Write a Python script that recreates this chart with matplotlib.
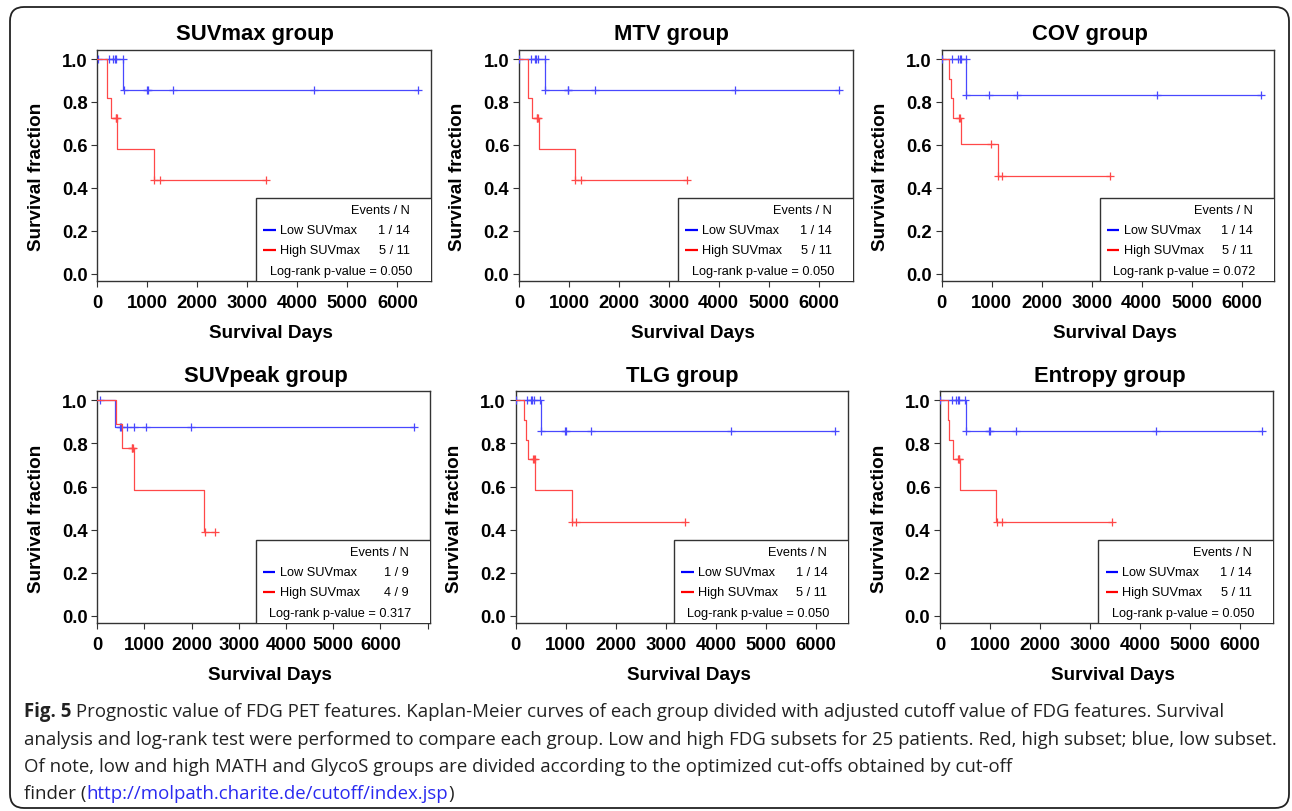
# Kaplan-Meier curves of FDG PET feature groups (6 panels) with figure caption
import numpy as np
import matplotlib
matplotlib.use('Agg')
import matplotlib.pyplot as plt
from matplotlib.patches import FancyBboxPatch, Rectangle
from matplotlib.transforms import IdentityTransform

plt.rcParams['font.family'] = ['Liberation Sans', 'DejaVu Sans']

# panel text
titles = ['SUVmax group', 'MTV group', 'COV group', 'SUVpeak group', 'TLG group', 'Entropy group']
low_label = 'Low SUVmax'
high_label = 'High SUVmax'
low_events = ['1 / 14', '1 / 14', '1 / 14', '1 / 9', '1 / 14', '1 / 14']
high_events = ['5 / 11', '5 / 11', '5 / 11', '4 / 9', '5 / 11', '5 / 11']
p_values = ['0.050', '0.050', '0.072', '0.317', '0.050', '0.050']
x_max = [6670, 6690, 6650, 7050, 6650, 6660]
x_ticks = [0, 1000, 2000, 3000, 4000, 5000, 6000]
y_ticks = [0.0, 0.2, 0.4, 0.6, 0.8, 1.0]

# low group: step times, survival after each step, censor times
low_times = [[0, 520], [0, 520], [0, 490], [0, 373], [0, 500], [0, 513]]
low_surv = [[1.0, 0.857], [1.0, 0.857], [1.0, 0.833], [1.0, 0.875], [1.0, 0.857], [1.0, 0.857]]
low_cens = [
    [20, 230, 320, 345, 370, 515, 525, 1000, 1015, 1520, 4330, 6420],
    [0, 240, 320, 350, 385, 515, 525, 973, 985, 1520, 4320, 6407],
    [0, 200, 330, 360, 390, 485, 495, 950, 1500, 4310, 6380],
    [57, 480, 500, 620, 780, 1040, 1980, 6720],
    [0, 220, 300, 335, 372, 495, 505, 987, 1000, 1507, 4307, 6387],
    [0, 233, 320, 350, 387, 508, 518, 987, 1000, 1513, 4313, 6447],
]

# high group
high_times = [
    [0, 185, 195, 268, 400, 1134],
    [0, 173, 180, 253, 400, 1120],
    [0, 150, 180, 230, 380, 1120],
    [0, 390, 517, 784, 2267],
    [0, 170, 200, 240, 387, 1120],
    [0, 167, 180, 253, 400, 1120],
]
high_surv = [
    [1.0, 0.909, 0.818, 0.727, 0.582, 0.436],
    [1.0, 0.909, 0.818, 0.727, 0.582, 0.436],
    [1.0, 0.909, 0.818, 0.727, 0.606, 0.455],
    [1.0, 0.889, 0.778, 0.583, 0.389],
    [1.0, 0.909, 0.818, 0.727, 0.582, 0.436],
    [1.0, 0.909, 0.818, 0.727, 0.582, 0.436],
]
high_cens = [
    [368, 378, 388, 1140, 1254, 3374],
    [353, 370, 387, 1130, 1240, 3373],
    [350, 365, 980, 1125, 1210, 3370],
    [730, 745, 760, 2280, 2494],
    [340, 365, 380, 1135, 1213, 3380],
    [353, 370, 387, 1130, 1247, 3433],
]

caption_lines = [
    'Prognostic value of FDG PET features. Kaplan-Meier curves of each group divided with adjusted cutoff value of FDG features. Survival',
    'analysis and log-rank test were performed to compare each group. Low and high FDG subsets for 25 patients. Red, high subset; blue, low subset.',
    'Of note, low and high MATH and GlycoS groups are divided according to the optimized cut-offs obtained by cut-off',
]
caption_link = 'http://molpath.charite.de/cutoff/index.jsp'

W, H = 1292, 812
fig = plt.figure(figsize=(W / 100, H / 100), dpi=100)

# axes boxes in pixels: left, top, right, bottom
boxes = [
    (97.3, 51, 431, 282.3), (519, 51, 853, 282.3), (941.7, 51, 1274, 282.3),
    (97.3, 392.3, 430, 624.3), (515.7, 392.3, 848.3, 624.3), (940, 392.3, 1273, 624.3),
]
# title centre shift from axes centre, pixels
title_shift = [-9, -15, -18, 2, 0, 3]

blue_curve = '#4848ff'
red_curve = '#ff4848'
spine_col = '#333333'


def draw_km(ax, times, surv, cens, color):
    t = list(times) + [max(cens)]
    s = list(surv) + [surv[-1]]
    ax.step(t, s, where='post', color=color, lw=0.9, zorder=3)
    idx = np.searchsorted(times, cens, side='right') - 1
    cy = np.array(surv)[idx]
    ax.plot(cens, cy, ls='none', marker='+', ms=6, mew=0.9, color=color, zorder=3)


for i in range(6):
    l, t, r, b = boxes[i]
    ax = fig.add_axes([l / W, 1 - b / H, (r - l) / W, (b - t) / H])
    draw_km(ax, low_times[i], low_surv[i], low_cens[i], blue_curve)
    draw_km(ax, high_times[i], high_surv[i], high_cens[i], red_curve)

    ax.set_xlim(0, x_max[i])
    ax.set_ylim(-0.035, 1.042)
    xt = list(x_ticks)
    if x_max[i] > 7000:
        xt.append(7000)
    ax.set_xticks(xt)
    ax.set_xticklabels([str(v) if v <= 6000 else '' for v in xt])
    ax.set_yticks(y_ticks)
    ax.set_yticklabels(['%.1f' % v for v in y_ticks])
    ax.tick_params(axis='both', length=4.5, width=0.8, color=spine_col,
                   labelsize=13.3)
    ax.tick_params(axis='x', pad=5)
    ax.tick_params(axis='y', pad=2.5)
    for lab in ax.get_xticklabels() + ax.get_yticklabels():
        lab.set_fontweight('bold')
    for sp in ax.spines.values():
        sp.set_color(spine_col)
        sp.set_linewidth(1.0)

    ax.text(0.5 + title_shift[i] / (r - l), 1.07, titles[i], transform=ax.transAxes,
            ha='center', va='center', fontsize=15.8, fontweight='bold')
    ax.text(-0.183, 0.455, 'Survival fraction', transform=ax.transAxes, rotation=90,
            ha='center', va='center', fontsize=13.6, fontweight='bold')
    ax.text(0.52, -0.22, 'Survival Days', transform=ax.transAxes, ha='center',
            va='center', fontsize=13.6, fontweight='bold')

    # legend box
    ax.add_patch(Rectangle((0.4756, -0.01), 0.53, 0.369, transform=ax.transAxes,
                           facecolor='white', edgecolor=spine_col, lw=1.0,
                           zorder=5, clip_on=True))
    ax.text(0.935, 0.308, 'Events / N', transform=ax.transAxes, ha='right',
            va='center', fontsize=9.2, zorder=6)
    for yy, col, lab, ev in [(0.222, '#0000ff', low_label, low_events[i]),
                             (0.135, '#ff0000', high_label, high_events[i])]:
        ax.plot([0.497, 0.535], [yy, yy], transform=ax.transAxes, color=col,
                lw=1.6, zorder=6, solid_capstyle='butt')
        ax.text(0.548, yy, lab, transform=ax.transAxes, ha='left', va='center',
                fontsize=9.2, zorder=6)
        ax.text(0.937, yy, ev, transform=ax.transAxes, ha='right', va='center',
                fontsize=9.2, zorder=6)
    ax.text(0.943, 0.045, 'Log-rank p-value = ' + p_values[i], transform=ax.transAxes,
            ha='right', va='center', fontsize=9.2, zorder=6)

# rounded frame around the whole figure
fig.patches.append(FancyBboxPatch((10, 3), 1279, 801, boxstyle='round,pad=0,rounding_size=14',
                                  transform=IdentityTransform(), facecolor='none',
                                  edgecolor='#222222', lw=1.3))

# caption
renderer = fig.canvas.get_renderer()
cap_font = ['Open Sans', 'DejaVu Sans']
cap_size = 13.4
cap_col = '#222222'
line_y = [711.7, 740.0, 767.5, 794.0]
x0 = 24


def put(x, y_px, s, **kw):
    txt = fig.text(x / W, 1 - y_px / H, s, ha='left', va='center', family=cap_font,
                   fontsize=cap_size, **kw)
    bb = txt.get_window_extent(renderer=renderer)
    return x + bb.width


x = put(x0, line_y[0], 'Fig. 5', fontweight='bold', color=cap_col)
put(x, line_y[0], ' ' + caption_lines[0], color=cap_col)
put(x0, line_y[1], caption_lines[1], color=cap_col)
put(x0, line_y[2], caption_lines[2], color=cap_col)
x = put(x0, line_y[3], 'finder (', color=cap_col)
x = put(x, line_y[3], caption_link, color='#2a2af0')
put(x, line_y[3], ')', color=cap_col)

fig.savefig('out.png', dpi=100)
